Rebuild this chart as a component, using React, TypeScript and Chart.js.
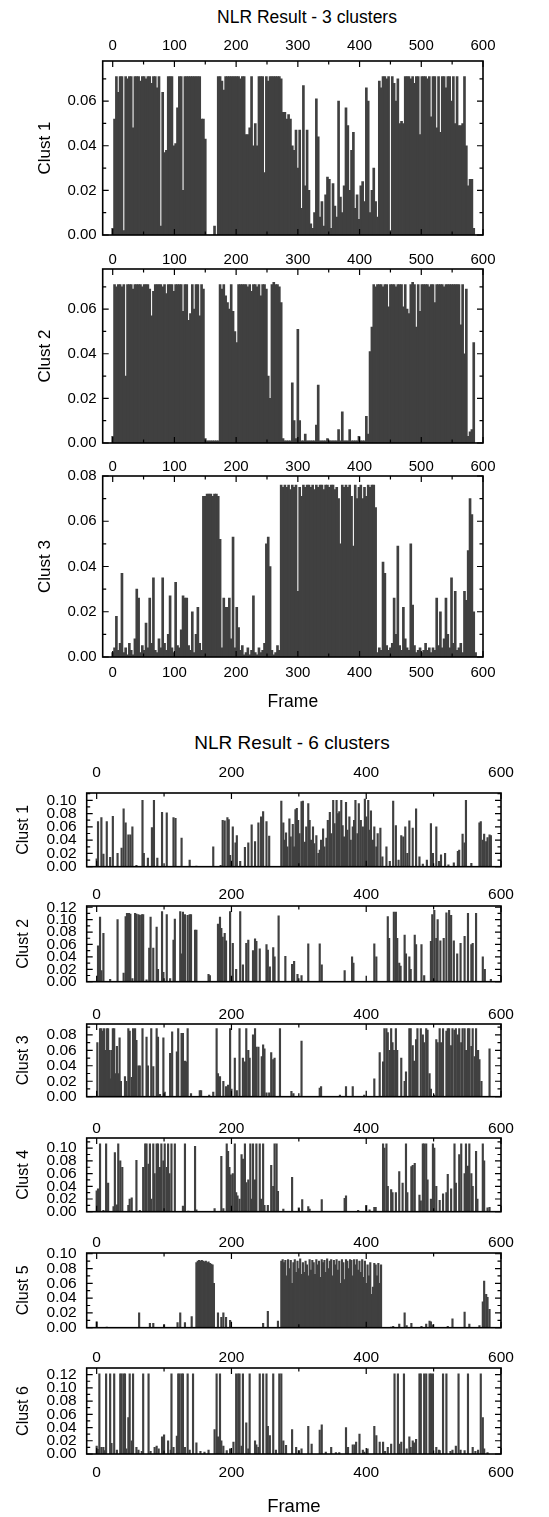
import React, { useEffect, useRef } from "react";
import { Chart, registerables } from "chart.js";
Chart.register(...registerables);

const FONT = "'Liberation Sans', Arial, Helvetica, sans-serif";
const BAR = "#404040";

// ---------- 3 clusters: one value every 3 frames (frame = 3*index) ----------
const CLUST3_1 = [
.003,.052,.071,.064,.071,.071,.002,.071,.070,.071,
.071,.048,.071,.071,.071,.069,.071,.071,.070,.071,
.071,.068,.071,.071,.066,.071,.004,.064,.037,.038,
.071,.071,.071,.040,.041,.057,.071,.071,.020,.071,
.071,.071,.071,.071,.071,.071,.071,.071,.052,.052,
.043,0,0,0,0,.004,0,.071,.071,.069,
.065,.071,.071,.071,.071,.071,.071,.071,.071,.070,
.071,.071,.045,.045,.048,.071,.040,.050,.040,.071,
.071,.071,.028,.071,.069,.071,.071,.071,.071,.071,
.071,.070,.055,.055,.052,.054,.052,.040,.038,.047,
.030,.047,.012,.067,.022,.047,.020,.005,.003,.010,
.061,.044,.008,.015,.004,.018,.026,.025,.003,.023,
.013,.008,.060,.017,.010,.022,.057,.049,.020,.038,
.046,.012,.018,.007,.022,.024,.015,.066,.060,.010,
.020,.030,.015,.008,.069,.066,.071,.071,.070,.071,
.002,.071,.068,.060,.070,.050,.051,.050,.071,.071,
.071,.070,.071,.068,.071,.071,.045,.071,.071,.071,
.070,.071,.053,.071,.071,.048,.071,.046,.071,.071,
.066,.071,.071,.060,.071,.050,.071,.049,.049,.050,
.071,.040,.022,.025,.025,.003,0,0,0,0];

const CLUST3_2 = [
.003,.071,.070,.071,.071,.070,.071,.030,.071,.071,
.071,.069,.071,.071,.071,.071,.070,.071,.071,.071,
.069,.057,.068,.071,.071,.071,.071,.070,.071,.067,
.071,.071,.071,.068,.071,.071,.071,.071,.059,.071,
.071,.055,.058,.071,.060,.071,.071,.057,.071,.069,
.002,.001,.001,.001,.001,.001,.001,.001,.071,.069,
.071,.066,.063,.060,.071,.059,.050,.045,.071,.071,
.071,.071,.071,.070,.071,.068,.071,.071,.070,.071,
.066,.071,.071,.069,.030,.020,.071,.072,.071,.071,
.070,.063,.002,.001,.001,.001,.001,.027,.010,.002,
.051,.010,.001,.001,.004,.001,.001,.001,.001,.001,
.008,.026,.001,.001,.001,.001,.002,.001,.001,.001,
.001,.001,.006,.001,.014,.001,.001,.001,.006,.001,
.001,.001,.001,.003,.001,.001,.001,.012,.004,.041,
.052,.071,.070,.071,.071,.071,.070,.071,.071,.061,
.071,.071,.071,.070,.071,.071,.071,.061,.071,.060,
.058,.071,.072,.071,.052,.071,.059,.071,.071,.071,
.071,.070,.071,.071,.063,.071,.071,.071,.071,.070,
.071,.071,.071,.071,.071,.071,.071,.071,.053,.071,
.040,.069,.003,.005,.006,.045,0,0,0,0];

const CLUST3_3 = [
.002,.004,.018,.003,.006,.037,.002,.004,.001,.006,
.003,.001,.008,.030,.026,.002,.005,.003,.015,.004,
.026,.006,.035,.003,.002,.008,.004,.035,.006,.003,
.010,.027,.004,.002,.033,.005,.004,.012,.027,.026,
.026,.005,.003,.020,.002,.010,.022,.006,.003,.071,
.071,.072,.072,.072,.071,.072,.072,.071,.052,.004,
.026,.022,.022,.026,.008,.053,.004,.022,.013,.003,
.005,.001,.002,.004,.001,.003,.027,.002,.001,.004,
.002,.003,.006,.050,.053,.040,.003,.001,.002,.005,
.003,.076,.075,.076,.075,.076,.074,.076,.075,.076,
.029,.075,.071,.076,.075,.076,.076,.075,.076,.074,
.076,.075,.076,.076,.074,.076,.076,.075,.076,.076,
.074,.075,.070,.050,.076,.075,.076,.075,.076,.071,
.049,.076,.070,.075,.076,.070,.075,.071,.076,.075,
.076,.076,.066,.002,.004,.003,.042,.037,.005,.003,
.004,.006,.026,.010,.049,.005,.003,.022,.008,.004,
.003,.050,.023,.005,.002,.003,.004,.002,.003,.006,
.003,.004,.002,.004,.003,.026,.005,.020,.004,.008,
.026,.010,.004,.035,.006,.029,.003,.004,.006,.002,
.029,.025,.047,.070,.063,.020,.002,0,0,0];

// ---------- 6 clusters: [frame, value] spikes ----------
type Pt = [number, number];
const CLUST6_1: Pt[] = [[0,.012],[2,.068],[7,.074],[10,.019],[15,.068],[20,.014],[24,.076],[31,.020],[37,.028],[40,.087],[43,.066],[47,.048],[50,.048],[53,.060],[59,.002],[68,.100],[70,.020],[76,.013],[82,.059],[85,.100],[90,.013],[97,.082],[104,.081],[114,.074],[117,.073],[126,.043],[138,.010],[148,.001],[173,.030],[184,.002],[187,.070],[190,.069],[194,.074],[196,.071],[198,.017],[202,.060],[206,.036],[208,.047],[213,.008],[220,.029],[225,.036],[230,.063],[235,.038],[240,.066],[244,.075],[247,.083],[252,.068],[256,.046],[274,.099],[277,.066],[279,.040],[281,.051],[283,.030],[286,.072],[288,.045],[291,.064],[293,.030],[295,.086],[297,.088],[299,.070],[301,.050],[304,.098],[306,.099],[309,.037],[311,.060],[314,.095],[316,.070],[318,.040],[321,.060],[323,.035],[326,.047],[329,.020],[331,.025],[333,.040],[336,.057],[338,.030],[341,.043],[343,.070],[346,.082],[348,.050],[351,.100],[353,.065],[356,.100],[358,.080],[360,.083],[363,.100],[365,.062],[367,.045],[370,.097],[372,.055],[375,.075],[377,.040],[380,.060],[382,.070],[384,.100],[387,.050],[389,.095],[392,.070],[395,.060],[398,.102],[400,.075],[403,.100],[405,.055],[407,.084],[410,.040],[412,.060],[415,.030],[417,.050],[421,.058],[424,.015],[430,.030],[435,.008],[440,.099],[444,.062],[448,.010],[452,.047],[455,.045],[458,.060],[461,.020],[464,.069],[469,.058],[474,.087],[479,.015],[484,.004],[490,.010],[496,.065],[499,.020],[504,.060],[508,.008],[511,.018],[517,.020],[522,.003],[530,.006],[536,.023],[538,.025],[543,.049],[546,.036],[548,.100],[556,.005],[568,.066],[570,.068],[573,.040],[575,.049],[578,.038],[580,.044],[583,.048],[585,.047]];

const CLUST6_2: Pt[] = [[2,.058],[5,.104],[7,.018],[10,.078],[20,.004],[31,.100],[40,.014],[43,.105],[45,.110],[48,.110],[50,.109],[53,.005],[57,.110],[59,.109],[62,.108],[64,.107],[67,.108],[69,.108],[74,.003],[78,.054],[80,.104],[84,.054],[89,.088],[91,.020],[97,.113],[99,.015],[104,.108],[109,.005],[114,.067],[116,.101],[124,.113],[126,.045],[128,.112],[131,.108],[135,.107],[138,.108],[140,.108],[146,.083],[148,.083],[166,.012],[168,.010],[180,.093],[183,.104],[185,.086],[187,.072],[190,.078],[192,.066],[198,.113],[202,.062],[207,.020],[213,.113],[217,.027],[222,.062],[225,.067],[232,.050],[235,.069],[237,.065],[242,.053],[252,.060],[254,.051],[257,.024],[262,.055],[264,.040],[270,.106],[280,.041],[290,.028],[293,.033],[298,.012],[304,.010],[314,.061],[331,.061],[334,.027],[368,.018],[379,.040],[381,.030],[412,.061],[415,.040],[432,.105],[434,.070],[441,.112],[444,.112],[446,.070],[449,.030],[451,.025],[457,.075],[459,.045],[464,.040],[466,.020],[472,.075],[474,.060],[482,.060],[486,.010],[496,.065],[498,.108],[501,.115],[504,.070],[506,.100],[510,.066],[515,.070],[519,.111],[523,.115],[526,.107],[530,.066],[535,.045],[540,.062],[546,.073],[551,.110],[556,.060],[558,.062],[563,.110],[573,.040],[576,.020],[585,.004]];

const CLUST6_3: Pt[] = [[1,.070],[5,.088],[7,.088],[9,.085],[11,.088],[13,.060],[15,.088],[17,.088],[19,.060],[20,.023],[22,.060],[24,.088],[26,.088],[28,.030],[30,.065],[32,.030],[34,.076],[36,.020],[42,.026],[44,.020],[47,.088],[49,.085],[52,.025],[54,.088],[57,.088],[59,.073],[62,.040],[64,.040],[68,.088],[74,.077],[76,.040],[81,.088],[84,.039],[89,.088],[91,.077],[94,.003],[99,.076],[101,.006],[109,.056],[112,.084],[119,.058],[121,.088],[126,.082],[128,.082],[131,.046],[133,.045],[135,.088],[140,.004],[153,.008],[155,.008],[167,.002],[173,.006],[178,.088],[180,.030],[183,.026],[188,.020],[192,.013],[195,.015],[198,.088],[200,.010],[205,.050],[208,.008],[212,.088],[217,.050],[220,.045],[222,.088],[225,.060],[227,.050],[232,.080],[235,.088],[237,.064],[240,.064],[245,.052],[247,.067],[249,.062],[252,.005],[256,.005],[259,.057],[262,.048],[264,.050],[272,.088],[289,.007],[292,.004],[304,.072],[331,.011],[333,.013],[361,.002],[370,.013],[380,.013],[397,.002],[412,.023],[420,.057],[425,.045],[427,.088],[430,.088],[432,.083],[435,.060],[437,.088],[439,.070],[441,.060],[444,.088],[446,.060],[452,.050],[457,.020],[459,.032],[464,.088],[466,.088],[469,.066],[471,.046],[474,.074],[476,.088],[481,.088],[484,.080],[486,.070],[489,.088],[491,.086],[494,.030],[496,.010],[501,.002],[504,.074],[506,.070],[509,.088],[511,.070],[514,.088],[519,.085],[521,.088],[523,.088],[526,.066],[528,.088],[531,.086],[533,.088],[536,.080],[538,.088],[541,.070],[543,.088],[546,.088],[548,.060],[551,.088],[553,.088],[556,.065],[558,.088],[561,.052],[563,.088],[566,.060],[568,.048],[571,.020],[583,.062]];

const CLUST6_4: Pt[] = [[0,.033],[2,.036],[5,.107],[10,.002],[14,.107],[17,.045],[25,.008],[27,.093],[30,.011],[32,.107],[35,.080],[38,.070],[47,.010],[49,.020],[52,.022],[59,.081],[64,.002],[69,.070],[72,.107],[74,.107],[77,.075],[79,.107],[81,.020],[84,.107],[86,.060],[89,.107],[91,.107],[94,.070],[96,.107],[99,.080],[101,.107],[104,.070],[106,.107],[108,.060],[111,.107],[116,.107],[128,.009],[131,.107],[136,.001],[146,.103],[148,.003],[175,.005],[185,.087],[188,.005],[193,.107],[195,.095],[197,.070],[199,.058],[202,.060],[205,.107],[207,.030],[209,.025],[212,.020],[215,.090],[217,.083],[220,.107],[222,.046],[225,.050],[228,.107],[230,.020],[232,.107],[235,.050],[237,.107],[242,.107],[244,.020],[247,.107],[249,.010],[254,.010],[259,.073],[262,.040],[264,.107],[267,.107],[269,.032],[277,.004],[290,.054],[300,.006],[305,.019],[314,.008],[316,.004],[334,.019],[368,.021],[370,.025],[388,.002],[400,.010],[405,.003],[412,.007],[414,.007],[425,.107],[427,.100],[430,.107],[432,.040],[437,.035],[439,.030],[444,.030],[449,.063],[454,.045],[459,.107],[461,.030],[467,.071],[469,.073],[472,.076],[479,.026],[481,.017],[484,.107],[486,.107],[489,.107],[491,.050],[496,.020],[499,.107],[501,.100],[504,.040],[509,.018],[514,.028],[519,.030],[521,.059],[526,.036],[531,.107],[533,.045],[538,.090],[541,.107],[546,.060],[548,.107],[551,.072],[553,.107],[556,.060],[558,.040],[563,.095],[565,.020],[573,.107],[575,.080],[580,.006],[583,.007]];

const CLUST6_5: Pt[] = [[0,.008],[15,.001],[63,.020],[79,.006],[84,.006],[100,.004],[120,.007],[124,.020],[131,.007],[141,.015],
[148,.088],[150,.090],[152,.091],[154,.090],[156,.091],[158,.090],[160,.089],[162,.090],[164,.088],[166,.089],[168,.087],[170,.086],[172,.085],[174,.060],
[180,.020],[185,.014],[188,.020],[192,.014],[198,.010],[247,.006],[254,.022],[269,.009],
[274,.090],[276,.092],[278,.088],[280,.091],[282,.070],[284,.092],[286,.080],[288,.091],[290,.060],[292,.088],[294,.092],[296,.075],[298,.090],[300,.080],[302,.093],[304,.072],[306,.088],[308,.075],[310,.090],[312,.085],[314,.070],[316,.092],[318,.078],[320,.091],[322,.088],[324,.072],[326,.092],[328,.085],[330,.090],[332,.068],[334,.092],[336,.088],[338,.091],[340,.075],[342,.093],[344,.080],[346,.090],[348,.092],[350,.070],[352,.091],[354,.085],[356,.092],[358,.078],[360,.090],[362,.060],[364,.092],[366,.088],[368,.065],[370,.092],[372,.090],[374,.080],[376,.092],[378,.091],[380,.070],[382,.092],[384,.085],[386,.092],[388,.078],[390,.090],[392,.075],[394,.092],[396,.068],[398,.090],[400,.060],[402,.085],[404,.070],[406,.088],[408,.045],[410,.055],[412,.087],[414,.085],[416,.070],[418,.087],[420,.060],[422,.085],
[437,.001],[440,.002],[449,.005],[457,.020],[460,.003],[467,.006],[482,.002],[489,.005],[494,.009],[496,.008],[499,.004],[521,.002],[528,.012],[546,.021],[553,.005],[568,.003],[573,.035],[575,.063],[578,.045],[580,.041],[583,.025]];

const CLUST6_6: Pt[] = [[0,.012],[2,.007],[4,.121],[7,.010],[10,.010],[12,.005],[14,.121],[20,.121],[22,.016],[26,.121],[30,.006],[35,.121],[37,.121],[40,.121],[42,.121],[44,.008],[47,.055],[49,.121],[52,.020],[54,.121],[59,.010],[62,.006],[67,.004],[69,.121],[77,.121],[80,.004],[86,.010],[89,.012],[92,.008],[97,.026],[100,.029],[106,.020],[110,.006],[111,.121],[114,.010],[119,.027],[121,.121],[123,.121],[126,.121],[128,.121],[131,.010],[135,.121],[138,.006],[143,.121],[148,.017],[154,.004],[160,.003],[166,.006],[175,.037],[178,.121],[180,.026],[183,.121],[185,.020],[188,.012],[193,.005],[198,.008],[203,.018],[207,.121],[210,.121],[212,.121],[215,.012],[217,.121],[222,.047],[225,.008],[227,.121],[235,.020],[237,.014],[240,.010],[242,.121],[247,.121],[252,.121],[254,.042],[257,.028],[262,.121],[266,.006],[271,.121],[274,.121],[277,.020],[281,.013],[290,.037],[296,.010],[300,.005],[304,.008],[314,.042],[319,.015],[331,.036],[334,.044],[340,.003],[348,.010],[355,.002],[360,.002],[370,.040],[373,.010],[380,.014],[383,.014],[385,.018],[390,.030],[395,.006],[397,.003],[402,.008],[412,.042],[415,.028],[420,.018],[425,.018],[428,.004],[432,.010],[437,.015],[442,.121],[447,.121],[449,.015],[452,.018],[456,.121],[460,.008],[464,.026],[466,.010],[469,.020],[471,.017],[474,.022],[479,.121],[481,.121],[486,.121],[489,.121],[494,.121],[496,.121],[499,.121],[504,.010],[508,.006],[509,.005],[514,.121],[519,.121],[525,.004],[528,.006],[533,.012],[537,.121],[540,.006],[546,.005],[551,.121],[558,.010],[562,.004],[566,.006],[570,.121],[573,.055],[575,.008],[580,.002]];

// ---------- tick labels ----------
const X_LABELS_3 = [0, 100, 200, 300, 400, 500, 600];
const X_MINOR_3 = [50, 150, 250, 350, 450, 550];
const X_LABELS_6 = [0, 200, 400, 600];
const X_MINOR_6 = [100, 300, 500];
const Y_LABELS_06 = [0, 0.02, 0.04, 0.06];
const Y_LABELS_08 = [0, 0.02, 0.04, 0.06, 0.08];
const Y_LABELS_10 = [0, 0.02, 0.04, 0.06, 0.08, 0.1];
const Y_LABELS_12 = [0, 0.02, 0.04, 0.06, 0.08, 0.1, 0.12];

const FRAMES_3 = CLUST3_1.map((_, i) => i * 3);
const toPts3 = (vals: number[]) => vals.map((v, i) => ({ x: FRAMES_3[i], y: v }));
const toPts6 = (pts: Pt[]) => pts.map(([x, y]) => ({ x, y }));

function oddMinor(max: number): number[] {
  const out: number[] = [];
  for (let k = 1; k * 0.01 < max - 1e-9; k += 2) out.push(k * 0.01);
  return out;
}

const frameTicks = {
  id: "frameTicks",
  afterDatasetsDraw(chart: any, _a: any, o: any) {
    const { ctx, chartArea } = chart;
    const { left, right, top, bottom } = chartArea;
    const xs = chart.scales.x, ys = chart.scales.y;
    ctx.save();
    ctx.strokeStyle = "#000";
    ctx.lineWidth = 1.6;
    ctx.strokeRect(left, top, right - left, bottom - top);
    ctx.lineWidth = 1.2;
    ctx.beginPath();
    const xt = (vals: number[], len: number) => vals.forEach((v) => {
      const p = xs.getPixelForValue(v);
      ctx.moveTo(p, top); ctx.lineTo(p, top + len);
      ctx.moveTo(p, bottom); ctx.lineTo(p, bottom - len);
    });
    const yt = (vals: number[], len: number) => vals.forEach((v) => {
      const p = ys.getPixelForValue(v);
      ctx.moveTo(left, p); ctx.lineTo(left + len, p);
      ctx.moveTo(right, p); ctx.lineTo(right - len, p);
    });
    xt(o.xMajor, 6); xt(o.xMinor, 3.5);
    yt(o.yMajor, 6); yt(o.yMinor, 3.5);
    ctx.stroke();
    ctx.restore();
  },
};

type PanelCfg = {
  data: { x: number; y: number }[];
  barThickness: number;
  top: number; bottom: number; left: number; right: number;
  canvasTop: number; canvasBottom: number;
  xMin: number; xLabels: number[]; xMinor: number[];
  yMax: number; yLabels: number[];
  yTitle: string; yTitleFont: number; yTitleX: number;
  tickFont: number; yTickFont: number; yGap: number;
  topLabelY?: number; bottomLabelY?: number;
  xTitle?: string; xTitleFont?: number; xTitleY?: number;
};

const W = 549;

function Panel({ cfg }: { cfg: PanelCfg }) {
  const ref = useRef<HTMLCanvasElement>(null);
  const H = cfg.canvasBottom - cfg.canvasTop;
  useEffect(() => {
    const c = cfg;
    const lh = c.tickFont * 1.2;
    const hasTop = c.topLabelY !== undefined;
    const hasBottom = c.bottomLabelY !== undefined;
    const boxTop = c.top - c.canvasTop;
    const boxBottom = c.bottom - c.canvasTop;
    const tickCommon = {
      font: { family: FONT, size: c.tickFont },
      color: "#000",
      maxRotation: 0,
      autoSkip: false,
      callback: (v: any) => String(Math.round(Number(v))),
    };
    const xtitle = c.xTitle
      ? {
          display: true,
          text: c.xTitle,
          color: "#000",
          font: { family: FONT, size: c.xTitleFont },
          padding: { top: 0, bottom: (c.canvasBottom - (c.xTitleY as number)) - (c.xTitleFont as number) * 0.6 },
        }
      : { display: false };
    const chart = new Chart(ref.current as HTMLCanvasElement, {
      type: "bar",
      data: {
        datasets: [
          {
            data: c.data as any,
            backgroundColor: BAR,
            borderWidth: 0,
            barThickness: c.barThickness,
            xAxisID: "x",
            yAxisID: "y",
          } as any,
        ],
      },
      options: {
        responsive: false,
        animation: false,
        events: [],
        layout: {
          padding: {
            left: 0,
            right: W - c.right,
            top: hasTop ? 0 : boxTop,
            bottom: hasBottom ? 0 : H - boxBottom,
          },
        },
        plugins: {
          legend: { display: false },
          tooltip: { enabled: false },
          title: { display: false },
          frameTicks: {
            xMajor: c.xLabels,
            xMinor: c.xMinor,
            yMajor: c.yLabels,
            yMinor: oddMinor(c.yMax),
          },
        } as any,
        scales: {
          x: {
            type: "linear",
            position: "bottom",
            min: c.xMin,
            max: 600,
            offset: false,
            display: hasBottom,
            grid: { display: false, drawTicks: false, offset: false },
            border: { display: false },
            ticks: { ...tickCommon, padding: hasBottom ? (c.bottomLabelY as number) - c.bottom - lh / 2 : 0 },
            afterBuildTicks: (s: any) => { s.ticks = c.xLabels.map((v) => ({ value: v })); },
            afterFit: (s: any) => { s.height = H - boxBottom; },
            title: xtitle,
          },
          xt: {
            type: "linear",
            position: "top",
            min: c.xMin,
            max: 600,
            offset: false,
            display: hasTop,
            grid: { display: false, drawTicks: false },
            border: { display: false },
            ticks: { ...tickCommon, padding: hasTop ? Math.max(0, c.top - (c.topLabelY as number) - lh / 2) : 0 },
            afterBuildTicks: (s: any) => { s.ticks = c.xLabels.map((v) => ({ value: v })); },
            afterFit: (s: any) => { s.height = boxTop; },
          },
          y: {
            type: "linear",
            position: "left",
            min: 0,
            max: c.yMax,
            grid: { display: false, drawTicks: false },
            border: { display: false },
            ticks: {
              font: { family: FONT, size: c.yTickFont },
              color: "#000",
              padding: c.yGap,
              autoSkip: false,
              callback: (v: any) => Number(v).toFixed(2),
            },
            afterBuildTicks: (s: any) => { s.ticks = c.yLabels.map((v) => ({ value: v })); },
            afterFit: (s: any) => { s.width = c.left; },
            title: {
              display: true,
              text: c.yTitle,
              color: "#000",
              font: { family: FONT, size: c.yTitleFont },
              padding: { top: c.yTitleX - c.yTitleFont * 0.6, bottom: 0 },
            },
          },
        } as any,
      },
      plugins: [frameTicks],
    });
    return () => chart.destroy();
  }, [cfg, H]);
  return (
    <canvas
      ref={ref}
      width={W}
      height={H}
      style={{ position: "absolute", left: 0, top: cfg.canvasTop, width: W, height: H }}
    />
  );
}

// ---------- layout ----------
const G3 = { left: 102.7, right: 483, xMin: -16.2, tickFont: 15, yTickFont: 15, yGap: 6, yTitleFont: 17, yTitleX: 45.5, barThickness: 2, xLabels: X_LABELS_3, xMinor: X_MINOR_3 };
const G6 = { left: 86.7, right: 501, xMin: -14.8, tickFont: 15.5, yTickFont: 15.5, yGap: 10, yTitleFont: 16, yTitleX: 24, barThickness: 1.5, xLabels: X_LABELS_6, xMinor: X_MINOR_6 };

const PANELS: PanelCfg[] = [
  { ...G3, data: toPts3(CLUST3_1), yTitle: "Clust 1", yMax: 0.078, yLabels: Y_LABELS_06, top: 61, bottom: 243.5, canvasTop: 28, canvasBottom: 250, topLabelY: 46 },
  { ...G3, data: toPts3(CLUST3_2), yTitle: "Clust 2", yMax: 0.078, yLabels: Y_LABELS_06, top: 269, bottom: 452, canvasTop: 248, canvasBottom: 458, topLabelY: 259.5 },
  { ...G3, data: toPts3(CLUST3_3), yTitle: "Clust 3", yMax: 0.08, yLabels: Y_LABELS_08, top: 476, bottom: 657, canvasTop: 455, canvasBottom: 722, topLabelY: 467, bottomLabelY: 673, xTitle: "Frame", xTitleFont: 17.5, xTitleY: 702 },
  { ...G6, data: toPts6(CLUST6_1), yTitle: "Clust 1", yMax: 0.111, yLabels: Y_LABELS_10, top: 793, bottom: 879, canvasTop: 760, canvasBottom: 886, topLabelY: 773 },
  { ...G6, data: toPts6(CLUST6_2), yTitle: "Clust 2", yMax: 0.122, yLabels: Y_LABELS_12, top: 906, bottom: 994, canvasTop: 884, canvasBottom: 1001, topLabelY: 895 },
  { ...G6, data: toPts6(CLUST6_3), yTitle: "Clust 3", yMax: 0.094, yLabels: Y_LABELS_08, top: 1024, bottom: 1109, canvasTop: 1003, canvasBottom: 1116, topLabelY: 1015 },
  { ...G6, data: toPts6(CLUST6_4), yTitle: "Clust 4", yMax: 0.116, yLabels: Y_LABELS_10, top: 1138, bottom: 1224, canvasTop: 1117, canvasBottom: 1231, topLabelY: 1129 },
  { ...G6, data: toPts6(CLUST6_5), yTitle: "Clust 5", yMax: 0.101, yLabels: Y_LABELS_10, top: 1253, bottom: 1340, canvasTop: 1232, canvasBottom: 1347, topLabelY: 1243 },
  { ...G6, data: toPts6(CLUST6_6), yTitle: "Clust 6", yMax: 0.13, yLabels: Y_LABELS_12, top: 1368, bottom: 1454, canvasTop: 1347, canvasBottom: 1517, topLabelY: 1358, bottomLabelY: 1473, xTitle: "Frame", xTitleFont: 18.5, xTitleY: 1507 },
];

const titleStyle = (cx: number, cy: number, size: number): React.CSSProperties => ({
  position: "absolute",
  left: cx - 200,
  width: 400,
  top: cy - size / 2,
  height: size,
  lineHeight: `${size}px`,
  textAlign: "center",
  fontFamily: FONT,
  fontSize: size,
  color: "#000",
  whiteSpace: "nowrap",
});

export default function App() {
  return (
    <div style={{ position: "absolute", left: 0, top: 0, width: W, height: 1517, overflow: "hidden", background: "#fff" }}>
      <div style={titleStyle(307, 17.5, 17.5)}>NLR Result - 3 clusters</div>
      <div style={titleStyle(292, 742, 19)}>NLR Result - 6 clusters</div>
      {PANELS.map((p, i) => (
        <Panel key={i} cfg={p} />
      ))}
    </div>
  );
}
